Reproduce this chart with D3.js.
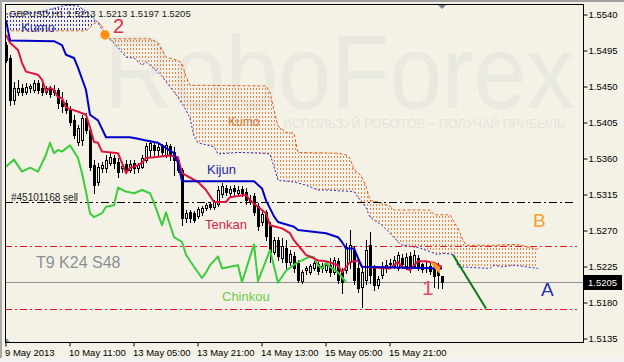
<!DOCTYPE html>
<html>
<head>
<meta charset="utf-8">
<script src="https://cdn.jsdelivr.net/npm/d3@7"></script>
<style>
  html, body { margin: 0; padding: 0; background: #f4f2e6; }
  svg { display: block; font-family: "Liberation Sans", Arial, sans-serif; }
  .axis text { font-size: 9.5px; fill: #000; font-family: "Liberation Sans", Arial, sans-serif; }
  .axis line { stroke: #000; }
  .axis path { display: none; }
</style>
</head>
<body>
<svg id="chart" width="624" height="362"></svg>
<script>
// ---- values ----
const symbolTitle = 'GBPUSD,H1  1.5213 1.5213 1.5197 1.5205';
const priceTicks = [1.5540, 1.5495, 1.5450, 1.5405, 1.5360, 1.5315, 1.5270, 1.5225, 1.5180, 1.5135];
const timeTickBars = [0, 16, 32, 48, 64, 80, 96];
const timeTickLabels = ['9 May 2013', '10 May 11:00', '13 May 05:00', '13 May 21:00',
                        '14 May 13:00', '15 May 05:00', '15 May 21:00'];

// H1 candles, [open, high, low, close]
const ohlc = [
  [1.5501,1.5505,1.5480,1.5483],[1.5485,1.5489,1.5426,1.5433],[1.5433,1.5455,1.5428,1.5448],[1.5443,1.5458,1.5439,1.5448],
  [1.5448,1.5453,1.5439,1.5443],[1.5443,1.5454,1.5440,1.5449],[1.5448,1.5453,1.5443,1.5450],[1.5445,1.5458,1.5443,1.5454],
  [1.5454,1.5458,1.5441,1.5445],[1.5448,1.5455,1.5439,1.5443],[1.5443,1.5450,1.5440,1.5448],[1.5448,1.5450,1.5436,1.5440],
  [1.5443,1.5451,1.5439,1.5445],[1.5445,1.5448,1.5423,1.5429],[1.5433,1.5443,1.5418,1.5425],[1.5429,1.5433,1.5416,1.5420],
  [1.5420,1.5425,1.5401,1.5405],[1.5408,1.5414,1.5385,1.5389],[1.5380,1.5401,1.5376,1.5398],[1.5383,1.5414,1.5376,1.5410],
  [1.5410,1.5416,1.5391,1.5395],[1.5395,1.5398,1.5345,1.5349],[1.5351,1.5358,1.5316,1.5326],[1.5330,1.5354,1.5326,1.5349],
  [1.5348,1.5355,1.5343,1.5351],[1.5348,1.5364,1.5343,1.5358],[1.5354,1.5366,1.5351,1.5361],[1.5360,1.5364,1.5348,1.5354],
  [1.5355,1.5360,1.5336,1.5343],[1.5348,1.5355,1.5343,1.5350],[1.5353,1.5358,1.5341,1.5345],[1.5345,1.5358,1.5343,1.5353],
  [1.5354,1.5358,1.5341,1.5348],[1.5348,1.5354,1.5343,1.5351],[1.5349,1.5364,1.5348,1.5360],[1.5358,1.5379,1.5355,1.5375],
  [1.5370,1.5383,1.5361,1.5379],[1.5376,1.5380,1.5364,1.5370],[1.5370,1.5379,1.5364,1.5374],[1.5375,1.5378,1.5363,1.5368],
  [1.5364,1.5380,1.5361,1.5376],[1.5375,1.5378,1.5358,1.5364],[1.5368,1.5374,1.5339,1.5358],[1.5358,1.5360,1.5343,1.5345],
  [1.5345,1.5348,1.5276,1.5285],[1.5285,1.5295,1.5280,1.5291],[1.5293,1.5295,1.5280,1.5285],[1.5291,1.5294,1.5280,1.5283],
  [1.5288,1.5299,1.5285,1.5296],[1.5293,1.5300,1.5289,1.5298],[1.5298,1.5304,1.5295,1.5301],[1.5303,1.5305,1.5296,1.5299],
  [1.5299,1.5308,1.5296,1.5306],[1.5303,1.5325,1.5300,1.5320],[1.5315,1.5329,1.5311,1.5325],[1.5323,1.5326,1.5314,1.5318],
  [1.5316,1.5325,1.5313,1.5321],[1.5323,1.5326,1.5314,1.5319],[1.5316,1.5325,1.5313,1.5320],[1.5321,1.5325,1.5313,1.5316],
  [1.5318,1.5323,1.5303,1.5308],[1.5308,1.5314,1.5303,1.5305],[1.5313,1.5316,1.5289,1.5293],[1.5300,1.5304,1.5270,1.5275],
  [1.5280,1.5295,1.5276,1.5290],[1.5293,1.5295,1.5258,1.5262],[1.5275,1.5280,1.5230,1.5243],[1.5243,1.5261,1.5240,1.5258],
  [1.5258,1.5261,1.5233,1.5238],[1.5235,1.5260,1.5230,1.5250],[1.5248,1.5258,1.5223,1.5230],[1.5230,1.5245,1.5226,1.5240],
  [1.5238,1.5243,1.5218,1.5223],[1.5229,1.5233,1.5205,1.5208],[1.5206,1.5220,1.5204,1.5218],[1.5220,1.5225,1.5215,1.5223],
  [1.5218,1.5228,1.5215,1.5225],[1.5223,1.5231,1.5220,1.5229],[1.5228,1.5230,1.5215,1.5219],[1.5223,1.5229,1.5218,1.5225],
  [1.5220,1.5230,1.5218,1.5226],[1.5226,1.5235,1.5213,1.5218],[1.5218,1.5236,1.5215,1.5233],[1.5231,1.5235,1.5204,1.5208],
  [1.5218,1.5223,1.5191,1.5205],[1.5220,1.5254,1.5216,1.5249],[1.5230,1.5270,1.5223,1.5251],[1.5245,1.5250,1.5203,1.5208],
  [1.5223,1.5230,1.5193,1.5198],[1.5199,1.5223,1.5174,1.5218],[1.5208,1.5258,1.5203,1.5245],[1.5251,1.5268,1.5204,1.5214],
  [1.5223,1.5226,1.5195,1.5201],[1.5201,1.5213,1.5198,1.5209],[1.5214,1.5230,1.5210,1.5225],[1.5223,1.5233,1.5218,1.5226],
  [1.5228,1.5234,1.5223,1.5229],[1.5225,1.5238,1.5223,1.5233],[1.5223,1.5243,1.5220,1.5239],[1.5235,1.5240,1.5223,1.5228],
  [1.5225,1.5241,1.5221,1.5236],[1.5238,1.5243,1.5218,1.5225],[1.5225,1.5245,1.5223,1.5239],[1.5235,1.5239,1.5220,1.5225],
  [1.5228,1.5229,1.5218,1.5221],[1.5224,1.5230,1.5218,1.5223],[1.5225,1.5229,1.5215,1.5219],[1.5223,1.5228,1.5199,1.5213],
  [1.5220,1.5229,1.5198,1.5214],[1.5213,1.5213,1.5197,1.5205]
];

// indicator lines, [bar index, price]
const tenkan = [[0,1.5514],[1,1.5504],[3,1.5495],[4,1.5479],[5,1.5468],[8,1.5464],[9,1.5458],[10,1.5443],[11,1.5448],
  [12,1.5445],[13,1.5436],[14,1.5435],[15,1.5423],[18,1.5418],[20,1.5414],[21,1.5398],[22,1.5380],[23,1.5379],[24,1.5368],
  [28,1.5366],[29,1.5354],[30,1.5341],[31,1.5348],[33,1.5351],[34,1.5354],[35,1.5360],[37,1.5361],[41,1.5363],[43,1.5361],
  [44,1.5341],[48,1.5330],[50,1.5320],[52,1.5305],[55,1.5305],[56,1.5311],[60,1.5314],[61,1.5307],[63,1.5299],[65,1.5291],
  [66,1.5276],[69,1.5272],[71,1.5266],[72,1.5257],[74,1.5245],[75,1.5239],[78,1.5232],[80,1.5231],[83,1.5226],[84,1.5217],
  [86,1.5230],[88,1.5232],[89,1.5224],[96,1.5222],[97,1.5226],[98,1.5230],[99,1.5224],[101,1.5220],[102,1.5226],[103,1.5231],
  [105,1.5231],[107,1.5229],[109,1.5224]];

const kijun = [[0,1.5532],[1,1.5507],[12,1.5506],[14,1.5501],[15,1.5489],[17,1.5485],[18,1.5473],[20,1.5445],[21,1.5414],
  [23,1.5407],[25,1.5386],[31,1.5386],[33,1.5384],[35,1.5382],[38,1.5379],[42,1.5366],[43,1.5354],[44,1.5331],[62,1.5331],
  [64,1.5322],[65,1.5307],[67,1.5287],[68,1.5280],[72,1.5274],[73,1.5270],[80,1.5266],[83,1.5261],[84,1.5255],[85,1.5247],
  [87,1.5247],[88,1.5235],[89,1.5224],[109,1.5222]];

const chinkou = [[0,1.5349],[2,1.5358],[4,1.5343],[6,1.5348],[8,1.5343],[10,1.5364],[11,1.5379],[12,1.5366],[13,1.5370],
  [14,1.5368],[16,1.5376],[18,1.5360],[19,1.5341],[20,1.5318],[21,1.5291],[22,1.5286],[24,1.5291],[25,1.5299],[27,1.5301],
  [28,1.5323],[30,1.5318],[32,1.5316],[34,1.5320],[36,1.5316],[37,1.5304],[39,1.5276],[40,1.5292],[42,1.5261],[44,1.5255],
  [45,1.5239],[47,1.5224],[49,1.5210],[50,1.5217],[51,1.5226],[53,1.5237],[54,1.5222],[56,1.5224],[58,1.5226],[59,1.5205],
  [62,1.5252],[63,1.5206],[66,1.5245],[68,1.5204],[70,1.5219],[73,1.5230],[74,1.5232],[76,1.5237],[77,1.5236],[78,1.5226],
  [79,1.5222],[80,1.5229],[81,1.5224],[83,1.5217],[85,1.5205]];

const senkouA = [[0,1.5519],[20,1.5519],[22,1.5528],[23,1.5530],[24,1.5525],[25,1.5512],[26,1.5509],[36,1.5509],[38,1.5504],
  [39,1.5495],[40,1.5486],[43,1.5482],[44,1.5478],[45,1.5462],[46,1.5451],[65,1.5450],[66,1.5442],[67,1.5420],[68,1.5400],
  [70,1.5392],[72,1.5391],[73,1.5367],[83,1.5366],[85,1.5364],[86,1.5360],[87,1.5345],[88,1.5342],[89,1.5336],[90,1.5325],
  [91,1.5307],[93,1.5305],[96,1.5300],[97,1.5295],[106,1.5295],[107,1.5289],[111,1.5289],[112,1.5280],[113,1.5272],
  [114,1.5260],[115,1.5251],[122,1.5251],[127,1.5252],[129,1.5251],[130,1.5249],[133,1.5246]];

const senkouB = [[0,1.5540],[8,1.5542],[15,1.5551],[18,1.5550],[21,1.5540],[23,1.5529],[25,1.5512],[27,1.5504],[30,1.5486],
  [32,1.5485],[34,1.5476],[35,1.5480],[37,1.5472],[39,1.5462],[41,1.5449],[43,1.5436],[45,1.5420],[46,1.5410],[47,1.5387],
  [48,1.5379],[52,1.5374],[53,1.5365],[58,1.5367],[64,1.5366],[66,1.5365],[67,1.5349],[68,1.5332],[72,1.5330],[75,1.5326],
  [78,1.5320],[80,1.5320],[87,1.5318],[88,1.5311],[90,1.5298],[91,1.5286],[94,1.5276],[96,1.5266],[98,1.5255],[99,1.5251],
  [103,1.5248],[106,1.5243],[108,1.5239],[109,1.5241],[112,1.5239],[113,1.5224],[121,1.5222],[122,1.5226],[124,1.5224],
  [127,1.5226],[130,1.5224],[133,1.5222]];

const lastPrice = 1.5205;
const sellLevel = 1.5305;
const redLevels = [1.5250, 1.5171];
const trendLine = [[111.75, 1.5239], [120, 1.5172]];
const crossPoint = [24.75, 1.5514];
const tailTop = [[106, 1.5231], [107.5, 1.5228], [108.5, 1.5223]];
const tailBottom = [[106, 1.5230], [107.5, 1.5220], [108.5, 1.5215]];

// ---- drawing ----
const W = 624, H = 362;
const plot = { left: 5, top: 4, right: 583, bottom: 342 };
const bg = '#f4f2e6';

const svg = d3.select('#chart');
const x = d3.scaleLinear().domain([0, 133]).range([6, 538]);
const y = d3.scaleLinear().domain([1.5135, 1.5540]).range([338, 14]);
const py = p => Math.round(y(p)) + 0.5;

svg.append('rect').attr('width', W).attr('height', H).attr('fill', bg);
svg.append('rect').attr('width', W).attr('height', 2).attr('fill', '#a0a0a0');
svg.append('rect').attr('width', 2).attr('height', H).attr('fill', '#a8a8a8');
svg.append('rect').attr('y', 358).attr('width', W).attr('height', 4).attr('fill', '#f2f2f0');

const defs = svg.append('defs');
defs.append('clipPath').attr('id', 'plotClip').append('rect')
    .attr('x', plot.left).attr('y', plot.top)
    .attr('width', plot.right - plot.left).attr('height', plot.bottom - plot.top);

// vertical dotted hatching used by the cloud
function hatch(id, color) {
    const p = defs.append('pattern').attr('id', id)
        .attr('patternUnits', 'userSpaceOnUse').attr('width', 3).attr('height', 4);
    p.append('rect').attr('x', 1).attr('y', 0).attr('width', 1).attr('height', 2)
        .attr('fill', color).attr('shape-rendering', 'crispEdges');
}
hatch('hatchOrange', '#f4824a');
hatch('hatchBlue', '#3030d8');

const areaBelow = d3.area().x(d => x(d[0])).y0(plot.bottom).y1(d => y(d[1]));
const areaAbove = d3.area().x(d => x(d[0])).y0(plot.top).y1(d => y(d[1]));
defs.append('clipPath').attr('id', 'belowA').append('path').attr('d', areaBelow(senkouA));
defs.append('clipPath').attr('id', 'belowB').append('path').attr('d', areaBelow(senkouB));

const g = svg.append('g').attr('clip-path', 'url(#plotClip)');

// watermark
g.append('text').attr('x', 104).attr('y', 108)
    .attr('textLength', 470).attr('lengthAdjust', 'spacingAndGlyphs')
    .style('font-size', '104px').style('fill', '#e9e9df')
    .text('RoboForex');
g.append('text').attr('x', 283).attr('y', 128)
    .attr('textLength', 282).attr('lengthAdjust', 'spacingAndGlyphs')
    .style('font-size', '12px').style('fill', '#e4e4da')
    .text('ИСПОЛЬЗУЙ РОБОТОВ – ПОЛУЧАЙ ПРИБЫЛЬ');

// kumo: orange where span A is above span B, blue where B is above
g.append('path').attr('d', areaAbove(senkouB)).attr('clip-path', 'url(#belowA)')
    .attr('fill', 'url(#hatchOrange)');
g.append('path').attr('d', areaAbove(senkouA)).attr('clip-path', 'url(#belowB)')
    .attr('fill', 'url(#hatchBlue)');

const line = d3.line().x(d => x(d[0])).y(d => y(d[1]));
g.append('path').attr('d', line(senkouA)).attr('fill', 'none')
    .attr('stroke', '#e2621c').attr('stroke-width', 1).attr('stroke-dasharray', '3,2');
g.append('path').attr('d', line(senkouB)).attr('fill', 'none')
    .attr('stroke', '#2a2acc').attr('stroke-width', 1).attr('stroke-dasharray', '2,2');

// horizontal levels
g.append('line').attr('x1', plot.left).attr('x2', 575)
    .attr('y1', py(sellLevel)).attr('y2', py(sellLevel))
    .attr('stroke', '#000').attr('stroke-dasharray', '8,3,2,3');
g.selectAll('.red-level').data(redLevels).enter().append('line')
    .attr('x1', plot.left).attr('x2', 577)
    .attr('y1', d => py(d)).attr('y2', d => py(d))
    .attr('stroke', '#e8141c').attr('stroke-dasharray', '7,3,2,3');
g.append('line').attr('x1', plot.left).attr('x2', plot.right)
    .attr('y1', py(lastPrice)).attr('y2', py(lastPrice))
    .attr('stroke', '#8c9094');

// candles
const candles = g.selectAll('.candle').data(ohlc).enter().append('g');
candles.append('line')
    .attr('x1', (d, i) => x(i) + 0.5).attr('x2', (d, i) => x(i) + 0.5)
    .attr('y1', d => Math.round(y(d[1]))).attr('y2', d => Math.round(y(d[2])) + 1)
    .attr('stroke', '#000');
candles.append('rect')
    .attr('x', (d, i) => x(i) - 0.5)
    .attr('y', d => py(Math.max(d[0], d[3])))
    .attr('width', 2)
    .attr('height', d => Math.max(0, Math.round(y(Math.min(d[0], d[3]))) - Math.round(y(Math.max(d[0], d[3])))))
    .attr('fill', d => d[3] >= d[0] ? bg : '#000')
    .attr('stroke', '#000');

// ichimoku lines
g.append('path').attr('d', line(chinkou)).attr('fill', 'none')
    .attr('stroke', '#3ccc3c').attr('stroke-width', 2).attr('stroke-linejoin', 'round');
g.append('path').attr('d', line(tenkan)).attr('fill', 'none')
    .attr('stroke', '#dc143c').attr('stroke-width', 2).attr('stroke-linejoin', 'round');
g.append('path').attr('d', line(kijun)).attr('fill', 'none')
    .attr('stroke', '#0000c8').attr('stroke-width', 2).attr('stroke-linejoin', 'round');

// small orange wedge at the last bars
g.append('path')
    .attr('d', d3.area().x(d => x(d[0])).y0((d, i) => y(tailBottom[i][1])).y1(d => y(d[1]))(tailTop))
    .attr('fill', '#ff9a1e');

// trend projection
g.append('path').attr('d', line(trendLine)).attr('fill', 'none')
    .attr('stroke', '#0a7a14').attr('stroke-width', 2);

// kumo cross marker
g.append('circle').attr('cx', x(crossPoint[0])).attr('cy', y(crossPoint[1])).attr('r', 4.5)
    .attr('fill', '#ff8c10').attr('stroke', '#ffb060').attr('stroke-width', 1);

// labels
function label(tx, ty, txt, size, color) {
    g.append('text').attr('x', tx).attr('y', ty)
        .style('font-size', size + 'px').style('fill', color).text(txt);
}
label(9, 17, symbolTitle, 9.5, '#1a1a1a');
label(21, 32, 'Kumo', 13, '#3434b4');
label(113, 33, '2', 20, '#d8304a');
label(228, 126, 'Kumo', 12, '#d2783c');
label(207, 174, 'Kijun', 13, '#1e1ea4');
label(205, 229, 'Tenkan', 13, '#d02848');
label(11, 201, '#45101168 sell', 10, '#222');
label(36, 268, 'T9 K24 S48', 16, '#8a9098');
label(222, 301, 'Chinkou', 13, '#6ccc4a');
label(422, 295, '1', 21, '#e04a68');
label(541, 296, 'A', 19, '#2030b0');
label(533, 227, 'B', 19, '#f5a030');

// chart shift / scroll markers
svg.append('path').attr('d', `M${x(109) - 5},${plot.top} L${x(109) + 5},${plot.top} L${x(109)},${plot.top + 5} Z`)
    .attr('fill', '#7a8896');
svg.append('path').attr('d', `M${plot.left},${plot.bottom} L${plot.left},${plot.bottom - 5} L${plot.left + 5},${plot.bottom} Z`)
    .attr('fill', '#7a8896');

// frame
svg.append('rect').attr('x', plot.left + 0.5).attr('y', plot.top + 0.5)
    .attr('width', plot.right - plot.left).attr('height', plot.bottom - plot.top)
    .attr('fill', 'none').attr('stroke', '#000');

// price axis
svg.append('g').attr('class', 'axis')
    .attr('transform', `translate(${plot.right + 0.5},0.5)`)
    .call(d3.axisRight(y).tickValues(priceTicks).tickSize(4).tickPadding(1)
        .tickFormat(d3.format('.4f')));

// last price box
const lpY = Math.round(y(lastPrice));
svg.append('rect').attr('x', plot.right + 1).attr('y', lpY - 7).attr('width', 38).attr('height', 15)
    .attr('fill', '#000');
svg.append('text').attr('x', plot.right + 5).attr('y', lpY + 4)
    .style('font-size', '9.5px').style('fill', '#fff').text(lastPrice.toFixed(4));

// time axis
const xAxis = svg.append('g').attr('class', 'axis')
    .attr('transform', `translate(-0.5,${plot.bottom + 0.5})`)
    .call(d3.axisBottom(x).tickValues(timeTickBars).tickSize(4).tickPadding(3)
        .tickFormat((d, k) => timeTickLabels[k]));
xAxis.selectAll('text').attr('text-anchor', 'start').attr('dx', -1);
</script>
</body>
</html>
